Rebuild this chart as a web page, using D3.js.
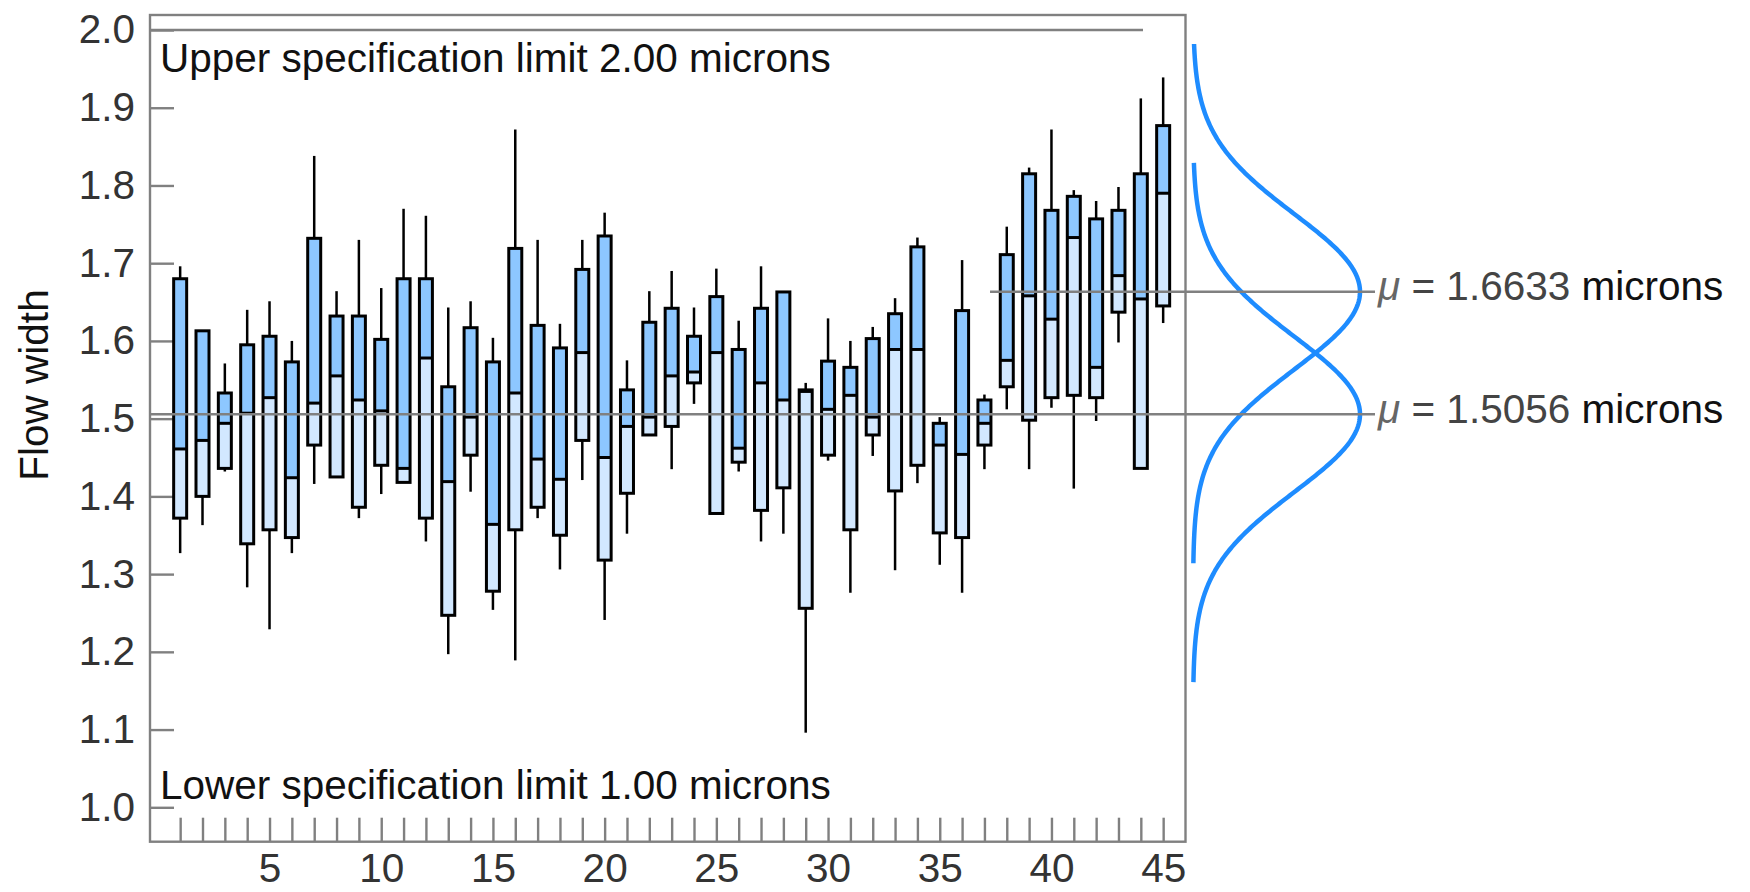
<!DOCTYPE html>
<html>
<head>
<meta charset="utf-8">
<script src="https://cdn.jsdelivr.net/npm/d3@7"></script>
<style>
  body { margin: 0; background: #fff; }
  text { font-family: "Liberation Sans", Arial, sans-serif; }
</style>
</head>
<body>
<div id="viz"></div>
<script>
// Sample number (x) and box-plot summaries of flow width (microns)
const samples = [1,2,3,4,5,6,7,8,9,10,11,12,13,14,15,16,17,18,19,20,21,22,23,24,25,
  26,27,28,29,30,31,32,33,34,35,36,37,38,39,40,41,42,43,44,45];
const whiskerHigh = [1.696,1.613,1.571,1.640,1.651,1.600,1.838,1.664,1.730,1.668,1.770,1.761,1.643,1.651,1.604,
  1.872,1.730,1.622,1.730,1.765,1.575,1.664,1.690,1.643,1.693,1.626,1.696,1.663,1.546,1.629,
  1.600,1.618,1.655,1.733,1.502,1.704,1.531,1.747,1.823,1.872,1.794,1.780,1.798,1.912,1.939];
const q3 = [1.680,1.613,1.533,1.595,1.606,1.573,1.732,1.632,1.632,1.602,1.680,1.680,1.541,1.617,1.573,
  1.719,1.620,1.591,1.692,1.735,1.537,1.624,1.642,1.606,1.657,1.589,1.642,1.663,1.537,1.574,
  1.566,1.603,1.635,1.721,1.494,1.639,1.524,1.711,1.815,1.768,1.786,1.757,1.768,1.815,1.877];
const median = [1.461,1.472,1.494,1.507,1.527,1.424,1.520,1.555,1.524,1.510,1.436,1.578,1.419,1.502,1.364,
  1.533,1.448,1.422,1.585,1.450,1.490,1.502,1.555,1.560,1.585,1.462,1.546,1.524,1.535,1.512,
  1.530,1.502,1.589,1.589,1.466,1.454,1.494,1.575,1.658,1.628,1.733,1.566,1.684,1.654,1.790];
const q1 = [1.372,1.400,1.436,1.339,1.357,1.347,1.466,1.425,1.386,1.440,1.418,1.372,1.247,1.453,1.278,
  1.357,1.386,1.350,1.472,1.318,1.404,1.479,1.490,1.546,1.378,1.444,1.382,1.411,1.256,1.453,
  1.357,1.479,1.407,1.440,1.353,1.347,1.466,1.541,1.498,1.527,1.530,1.527,1.637,1.436,1.645];
const whiskerLow = [1.327,1.363,1.432,1.283,1.229,1.327,1.416,1.425,1.372,1.403,1.418,1.342,1.197,1.406,1.254,
  1.189,1.372,1.306,1.421,1.241,1.352,1.479,1.435,1.519,1.378,1.432,1.342,1.352,1.096,1.446,
  1.276,1.452,1.305,1.417,1.312,1.276,1.435,1.512,1.435,1.514,1.410,1.497,1.598,1.436,1.623];

// Fitted normal distributions (two process periods)
const mu = [1.5056, 1.6633];
const sigma = [0.1, 0.1];
const muFirstSample = [1, 38];
const curveLow = [1.161, 1.314];
const curveHigh = [1.830, 1.983];

// Specification limits and ticks
const specNames = ['Upper', 'Lower'];
const specValues = [2.00, 1.00];
const yTicks = [1.0, 1.1, 1.2, 1.3, 1.4, 1.5, 1.6, 1.7, 1.8, 1.9, 2.0];
const xLabelEvery = 5;

const width = 1750;
const height = 892;
const frame = {left: 150, right: 1185.5, top: 15, bottom: 841.7};
const fontSize = 40.5;
const gray = '#808080';
const darkBlue = '#8dc7ff';
const lightBlue = '#d2e8ff';
const curveColor = '#1e8cff';
const boxWidth = 13;

const svg = d3.select('#viz')
  .append('svg')
  .attr('width', width)
  .attr('height', height)
  .attr('viewBox', [0, 0, width, height]);

const xScale = d3.scaleLinear()
  .domain([-0.35, 46])
  .range([frame.left, frame.right]);

const yScale = d3.scaleLinear()
  .domain([1, 2])
  .range([807.3, 30]);

// Frame
svg.append('rect')
  .attr('x', frame.left)
  .attr('y', frame.top)
  .attr('width', frame.right - frame.left)
  .attr('height', frame.bottom - frame.top)
  .attr('fill', 'none')
  .attr('stroke', gray)
  .attr('stroke-width', 2.4);

// Y axis (ticks point inward)
const yAxis = svg.append('g')
  .attr('transform', `translate(${frame.left},0)`)
  .call(d3.axisLeft(yScale)
    .tickValues(yTicks)
    .tickSize(-24)
    .tickPadding(15)
    .tickFormat(d3.format('.1f')));

// X axis (ticks point up)
const xAxis = svg.append('g')
  .attr('transform', `translate(0,${frame.bottom})`)
  .call(d3.axisBottom(xScale)
    .tickValues(samples)
    .tickSize(-24)
    .tickPadding(12)
    .tickFormat(d => d % xLabelEvery === 0 ? d : ''));

[yAxis, xAxis].forEach(ax => {
  ax.select('.domain').remove();
  ax.selectAll('.tick line')
    .attr('stroke', gray)
    .attr('stroke-width', 2.4);
  ax.selectAll('.tick text')
    .attr('fill', '#333')
    .style('font-size', fontSize + 'px');
});

// Spec limit lines and labels
svg.append('line')
  .attr('x1', frame.left)
  .attr('x2', 1143)
  .attr('y1', yScale(specValues[0]))
  .attr('y2', yScale(specValues[0]))
  .attr('stroke', gray)
  .attr('stroke-width', 2.4);

svg.selectAll('.spec-label')
  .data(specNames)
  .join('text')
    .attr('class', 'spec-label')
    .attr('x', 160)
    .attr('y', (d, i) => i === 0 ? 72 : 799)
    .attr('fill', '#111')
    .style('font-size', fontSize + 'px')
    .text((d, i) => `${d} specification limit ${specValues[i].toFixed(2)} microns`);

// Y axis title
svg.append('text')
  .attr('transform', 'translate(48,385) rotate(-90)')
  .attr('text-anchor', 'middle')
  .attr('fill', '#111')
  .style('font-size', fontSize + 'px')
  .text('Flow width');

// Box plots
const boxes = svg.append('g')
  .selectAll('g')
  .data(samples)
  .join('g');

boxes.append('line')
  .attr('x1', d => xScale(d)).attr('x2', d => xScale(d))
  .attr('y1', (d, i) => yScale(whiskerHigh[i]))
  .attr('y2', (d, i) => yScale(q3[i]))
  .attr('stroke', 'black').attr('stroke-width', 2.5);

boxes.append('line')
  .attr('x1', d => xScale(d)).attr('x2', d => xScale(d))
  .attr('y1', (d, i) => yScale(q1[i]))
  .attr('y2', (d, i) => yScale(whiskerLow[i]))
  .attr('stroke', 'black').attr('stroke-width', 2.5);

boxes.append('rect')
  .attr('x', d => xScale(d) - boxWidth / 2)
  .attr('y', (d, i) => yScale(q3[i]))
  .attr('width', boxWidth)
  .attr('height', (d, i) => yScale(median[i]) - yScale(q3[i]))
  .attr('fill', darkBlue);

boxes.append('rect')
  .attr('x', d => xScale(d) - boxWidth / 2)
  .attr('y', (d, i) => yScale(median[i]))
  .attr('width', boxWidth)
  .attr('height', (d, i) => yScale(q1[i]) - yScale(median[i]))
  .attr('fill', lightBlue);

boxes.append('rect')
  .attr('x', d => xScale(d) - boxWidth / 2)
  .attr('y', (d, i) => yScale(q3[i]))
  .attr('width', boxWidth)
  .attr('height', (d, i) => yScale(q1[i]) - yScale(q3[i]))
  .attr('fill', 'none')
  .attr('stroke', 'black')
  .attr('stroke-width', 3);

boxes.append('line')
  .attr('x1', d => xScale(d) - boxWidth / 2)
  .attr('x2', d => xScale(d) + boxWidth / 2)
  .attr('y1', (d, i) => yScale(median[i]))
  .attr('y2', (d, i) => yScale(median[i]))
  .attr('stroke', 'black')
  .attr('stroke-width', 3);

// Normal curves on the right
const densScale = d3.scaleLinear()
  .domain([0, 1])
  .range([1193, 1360]);

const curveLine = d3.line();

mu.forEach((m, k) => {
  const pts = d3.range(curveLow[k], curveHigh[k] + 1e-9, 0.002)
    .map(v => [densScale(Math.exp(-((v - m) ** 2) / (2 * sigma[k] ** 2))), yScale(v)]);
  svg.append('path')
    .attr('d', curveLine(pts))
    .attr('fill', 'none')
    .attr('stroke', curveColor)
    .attr('stroke-width', 4.5);
});

// Mean lines and labels
const muG = svg.append('g')
  .selectAll('g')
  .data(mu)
  .join('g');

muG.append('line')
  .attr('x1', (d, i) => muFirstSample[i] === 1 ? frame.left : xScale(muFirstSample[i] - 0.75))
  .attr('x2', 1375)
  .attr('y1', d => yScale(d))
  .attr('y2', d => yScale(d))
  .attr('stroke', gray)
  .attr('stroke-width', 2.4);

const muText = muG.append('text')
  .attr('x', 1378)
  .attr('y', d => yScale(d) + 8.5)
  .style('font-size', fontSize + 'px');

muText.append('tspan')
  .attr('font-style', 'italic')
  .attr('fill', '#666')
  .text('\u03bc');
muText.append('tspan')
  .attr('fill', '#444')
  .text(d => ` = ${d.toFixed(4)} `);
muText.append('tspan')
  .attr('fill', '#111')
  .text('microns');
</script>
</body>
</html>
